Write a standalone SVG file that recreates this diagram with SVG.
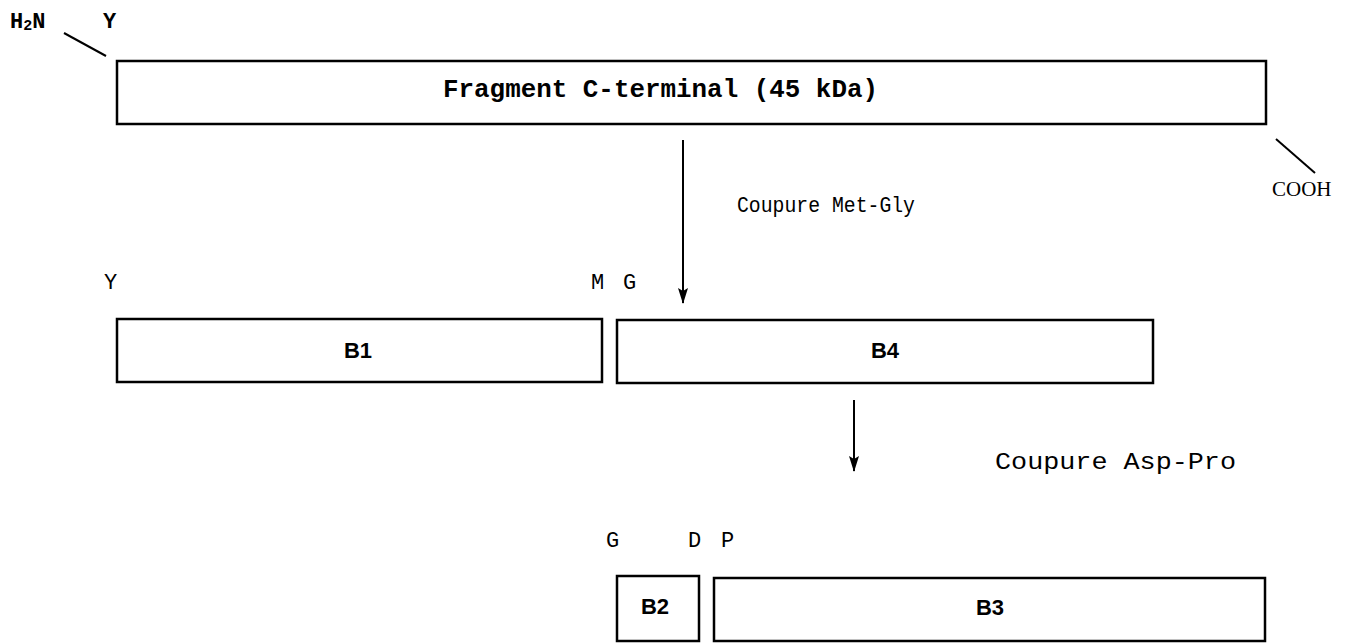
<svg xmlns="http://www.w3.org/2000/svg" width="1353" height="643" viewBox="0 0 1353 643">
<style>
.box{fill:none;stroke:#000;stroke-width:2.5}
.ln{stroke:#000;stroke-width:2;fill:none}
.b{font-family:"Liberation Mono","Courier New",monospace;font-weight:bold;fill:#000}
.t{font-family:"Liberation Mono","Courier New",monospace;fill:#000}
.lb{font-family:"Liberation Sans",Arial,sans-serif;font-weight:bold;fill:#000;font-size:22px;text-anchor:middle}
</style>
<defs>
<marker id="ah" markerWidth="16" markerHeight="10" refX="15" refY="5" orient="auto" markerUnits="userSpaceOnUse" viewBox="0 0 16 10">
<path d="M0,0 L3,5 L0,10 L16,5 Z" fill="#000"/>
</marker>
</defs>
<g id="frag45">
<rect class="box" x="117" y="61" width="1149" height="63"/>
<text class="b" x="443" y="97" font-size="25" textLength="435" lengthAdjust="spacingAndGlyphs">Fragment C-terminal (45 kDa)</text>
<text class="b" x="10" y="28" font-size="22">H<tspan font-size="15" dy="2">2</tspan><tspan dy="-2">N</tspan></text>
<text class="b" x="103" y="28" font-size="22">Y</text>
<text class="t" x="1272" y="196" font-size="21" style="font-family:'Liberation Serif','Times New Roman',serif">COOH</text>
</g>
<g id="b1">
<rect class="box" x="117" y="319" width="485" height="63"/>
<text class="lb" x="358" y="358">B1</text>
<text class="t" x="104" y="289" font-size="22">Y</text>
<text class="t" x="591" y="289" font-size="22">M</text>
<text class="t" x="623" y="289" font-size="22">G</text>
</g>
<g id="b4">
<rect class="box" x="617" y="320" width="536" height="63"/>
<text class="lb" x="885" y="358">B4</text>
</g>
<g id="b2">
<rect class="box" x="617" y="576" width="82" height="65"/>
<text class="lb" x="655" y="614">B2</text>
<text class="t" x="606" y="547" font-size="22">G</text>
<text class="t" x="688" y="547" font-size="22">D</text>
<text class="t" x="721" y="547" font-size="22">P</text>
</g>
<g id="b3">
<rect class="box" x="714" y="578" width="551" height="63"/>
<text class="lb" x="990" y="615">B3</text>
</g>
<g id="connectors">
<line class="ln" x1="64" y1="33" x2="106" y2="56"/>
<line class="ln" x1="1276" y1="139" x2="1315" y2="173"/>
<line class="ln" x1="683" y1="140" x2="683" y2="303" marker-end="url(#ah)"/>
<line class="ln" x1="854" y1="400" x2="854" y2="471" marker-end="url(#ah)"/>
<text class="t" x="737" y="212" font-size="22" textLength="178" lengthAdjust="spacingAndGlyphs">Coupure Met-Gly</text>
<text class="t" x="995" y="469" font-size="24" textLength="241" lengthAdjust="spacingAndGlyphs">Coupure Asp-Pro</text>
</g>
</svg>
